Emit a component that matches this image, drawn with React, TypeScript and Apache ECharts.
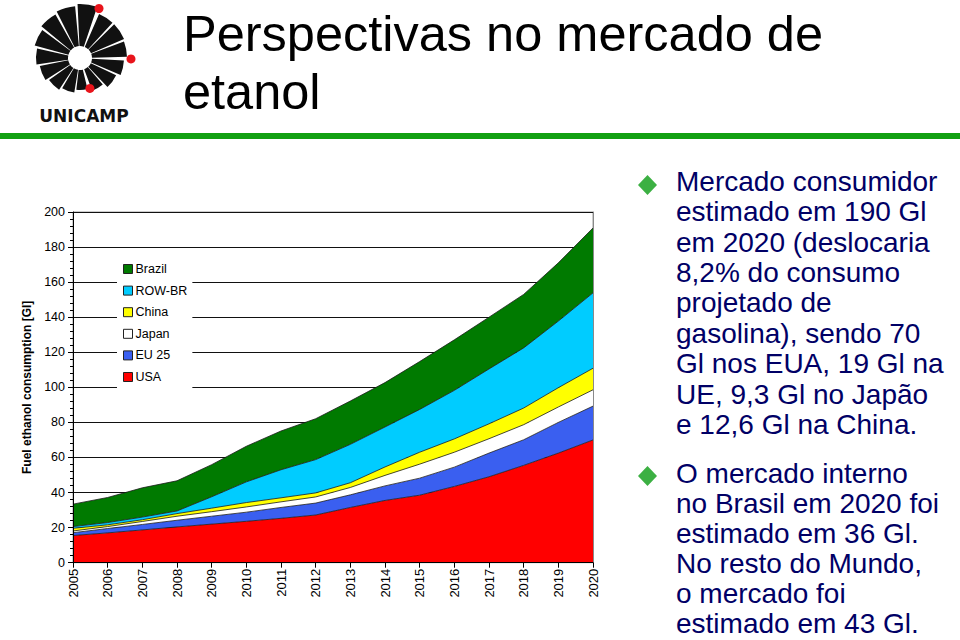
import React, { useEffect, useRef } from "react";
import * as echarts from "echarts";

const years = ["2005","2006","2007","2008","2009","2010","2011","2012","2013","2014","2015","2016","2017","2018","2019","2020"];
const usa = [15.5, 17, 18.7, 20.4, 22, 23.6, 25.3, 27.2, 31.5, 35.5, 38.5, 43.5, 49, 55.5, 62.5, 70];
const eu25 = [1.6, 2.5, 3.1, 3.8, 4.5, 5.2, 6.2, 6.8, 7.2, 8.3, 9.7, 11, 13.5, 14.6, 17.5, 19.3];
const japan = [1, 1.1, 1.7, 2.3, 2.6, 3, 3.2, 3.5, 4.2, 6, 8, 8.5, 8.2, 8.6, 8.8, 9.3];
const china = [1.5, 1, 1, 1.5, 2, 2.5, 2.3, 2.3, 2.7, 4.8, 6.8, 7.6, 8.5, 9.5, 11, 12.3];
const rowBr = [1, 1.3, 1.5, 1.5, 6.5, 11.8, 16, 19, 21.9, 22.8, 24.4, 27.7, 31.3, 34.3, 38, 43];
const brazil = [12.8, 14.3, 16.7, 17.2, 18.3, 20.3, 22.1, 23.3, 24.7, 25.3, 27.3, 28.8, 29.5, 30.5, 33.2, 37];

const legendOrder = ["Brazil", "ROW-BR", "China", "Japan", "EU 25", "USA"];
const yTickMin = 0;
const yTickMax = 200;
const yTickStep = 20;

const titleLines = ["Perspectivas no mercado de", "etanol"];
const bullet1 = [
  "Mercado consumidor",
  "estimado em 190 Gl",
  "em 2020 (deslocaria",
  "8,2% do consumo",
  "projetado de",
  "gasolina), sendo 70",
  "Gl nos EUA, 19 Gl na",
  "UE, 9,3 Gl no Japão",
  "e 12,6 Gl na China.",
];
const bullet2 = [
  "O mercado interno",
  "no Brasil em 2020 foi",
  "estimado em 36 Gl.",
  "No resto do Mundo,",
  "o mercado foi",
  "estimado em 43 Gl.",
];

const FONT = "'Liberation Sans', Arial, sans-serif";

const seriesDefs = [
  { name: "USA", data: usa, color: "#ff0000" },
  { name: "EU 25", data: eu25, color: "#3a5ff0" },
  { name: "Japan", data: japan, color: "#ffffff" },
  { name: "China", data: china, color: "#ffff00" },
  { name: "ROW-BR", data: rowBr, color: "#00ccff" },
  { name: "Brazil", data: brazil, color: "#007a00" },
];

function logoElements() {
  const cx = 80, cy = 58;
  const segs: [number, number, number][] = [
    [75, 98, 32], [98, 122, 35], [122, 146, 38], [146, 170, 41], [170, 194, 44],
    [194, 218, 47], [218, 242, 50], [242, 266, 52], [266, 290, 54],
    [292, 314, 48], [314, 338, 48], [338, 360, 47], [362, 384, 44], [384, 408, 40], [408, 431, 35],
  ];
  const d2r = Math.PI / 180;
  const els: any[] = segs.map(([s, e, r]) => ({
    type: "sector",
    shape: { cx, cy, r0: 12, r, startAngle: (s + 1.4) * d2r, endAngle: (e - 1.4) * d2r, clockwise: true },
    style: { fill: "#111" },
  }));
  const dots: [number, number][] = [[291, 53], [1, 51], [72, 32]];
  dots.forEach(([a, r]) => {
    els.push({
      type: "circle",
      shape: { cx: cx + r * Math.cos(a * d2r), cy: cy + r * Math.sin(a * d2r), r: 4.5 },
      style: { fill: "#e8141b" },
    });
  });
  els.push({
    type: "text",
    x: 84, y: 116,
    style: { text: "UNICAMP", fill: "#111", font: "bold 17px 'DejaVu Sans', sans-serif", align: "center", verticalAlign: "middle" },
  });
  return els;
}

function diamond(cx: number, cy: number) {
  return {
    type: "polygon",
    shape: { points: [[cx, cy - 10], [cx + 9.5, cy], [cx, cy + 10], [cx - 9.5, cy]] },
    style: { fill: "#3cb043" },
  };
}

export default function App() {
  const ref = useRef<HTMLDivElement>(null);
  useEffect(() => {
    if (!ref.current) return;
    const chart = echarts.init(ref.current, null, { renderer: "svg" });
    const option: any = {
      animation: false,
      backgroundColor: "#ffffff",
      textStyle: { fontFamily: FONT },
      grid: { left: 73, right: 367, top: 212, bottom: 77.3, show: true, borderColor: "#9a9a9a", borderWidth: 1, backgroundColor: "transparent" },
      legend: {
        orient: "vertical",
        left: 117,
        top: 258,
        backgroundColor: "#ffffff",
        padding: [4, 5, 4, 6],
        itemWidth: 9,
        itemHeight: 9,
        itemGap: 7.6,
        icon: "rect",
        data: legendOrder,
        itemStyle: { borderColor: "#222", borderWidth: 1 },
        textStyle: { fontSize: 12.5, color: "#000", fontFamily: FONT, lineHeight: 14, padding: [0, 0, 0, -2] },
      },
      xAxis: {
        type: "category",
        data: years,
        boundaryGap: false,
        z: 10,
        axisLine: { show: true, lineStyle: { color: "#000", width: 1 } },
        axisTick: { show: true, length: 5, lineStyle: { color: "#000" } },
        axisLabel: { rotate: 90, fontSize: 13, color: "#000", margin: 6, fontFamily: FONT },
        splitLine: { show: false },
      },
      yAxis: [
        {
          type: "value", min: yTickMin, max: yTickMax, interval: yTickStep, position: "left",
          axisLine: { show: false }, axisTick: { show: false }, axisLabel: { show: false },
          splitLine: { show: true, lineStyle: { color: "#111", width: 1 } },
        },
        {
          type: "value", min: yTickMin, max: yTickMax, interval: yTickStep, position: "left", z: 10,
          axisLine: { show: true, lineStyle: { color: "#000", width: 1 } },
          axisTick: { show: true, length: 5, lineStyle: { color: "#000" } },
          minorTick: { show: true, splitNumber: 5, length: 3, lineStyle: { color: "#000" } },
          axisLabel: { fontSize: 12.5, color: "#000", margin: 8, fontFamily: FONT },
          splitLine: { show: false },
          name: "Fuel ethanol consumption [Gl]",
          nameLocation: "middle",
          nameGap: 39,
          nameTextStyle: { fontWeight: "bold", fontSize: 12, color: "#000", fontFamily: FONT },
        },
        {
          type: "value", min: yTickMin, max: yTickMax, interval: yTickStep, position: "right", z: 10,
          axisLine: { show: true, lineStyle: { color: "#8a8a8a", width: 1 } },
          axisTick: { show: false }, axisLabel: { show: false }, splitLine: { show: false },
        },
      ],
      series: seriesDefs.map((s) => ({
        name: s.name,
        type: "line",
        stack: "total",
        data: s.data,
        yAxisIndex: 0,
        showSymbol: false,
        symbol: "none",
        itemStyle: { color: s.color },
        lineStyle: { color: "#1a1a1a", width: 0.8 },
        areaStyle: { color: s.color, opacity: 1 },
      })),
      graphic: [
        ...logoElements(),
        {
          type: "text", x: 183, y: 33,
          style: { text: titleLines[0], fill: "#000", font: `50.5px ${FONT}`, verticalAlign: "middle" },
        },
        {
          type: "text", x: 183, y: 91,
          style: { text: titleLines[1], fill: "#000", font: `50.5px ${FONT}`, verticalAlign: "middle" },
        },
        { type: "rect", shape: { x: 0, y: 133, width: 960, height: 6 }, style: { fill: "#12a012" } },
        diamond(647.5, 185),
        diamond(647.5, 476),
        {
          type: "text", x: 676, y: 166,
          style: { text: bullet1.join("\n"), fill: "#000066", font: `28px ${FONT}`, lineHeight: 30.4, verticalAlign: "top" },
        },
        {
          type: "text", x: 676, y: 458,
          style: { text: bullet2.join("\n"), fill: "#000066", font: `28px ${FONT}`, lineHeight: 30, verticalAlign: "top" },
        },
      ],
    };
    chart.setOption(option);
    return () => chart.dispose();
  }, []);
  return <div ref={ref} style={{ position: "fixed", left: 0, top: 0, width: 960, height: 640 }} />;
}
